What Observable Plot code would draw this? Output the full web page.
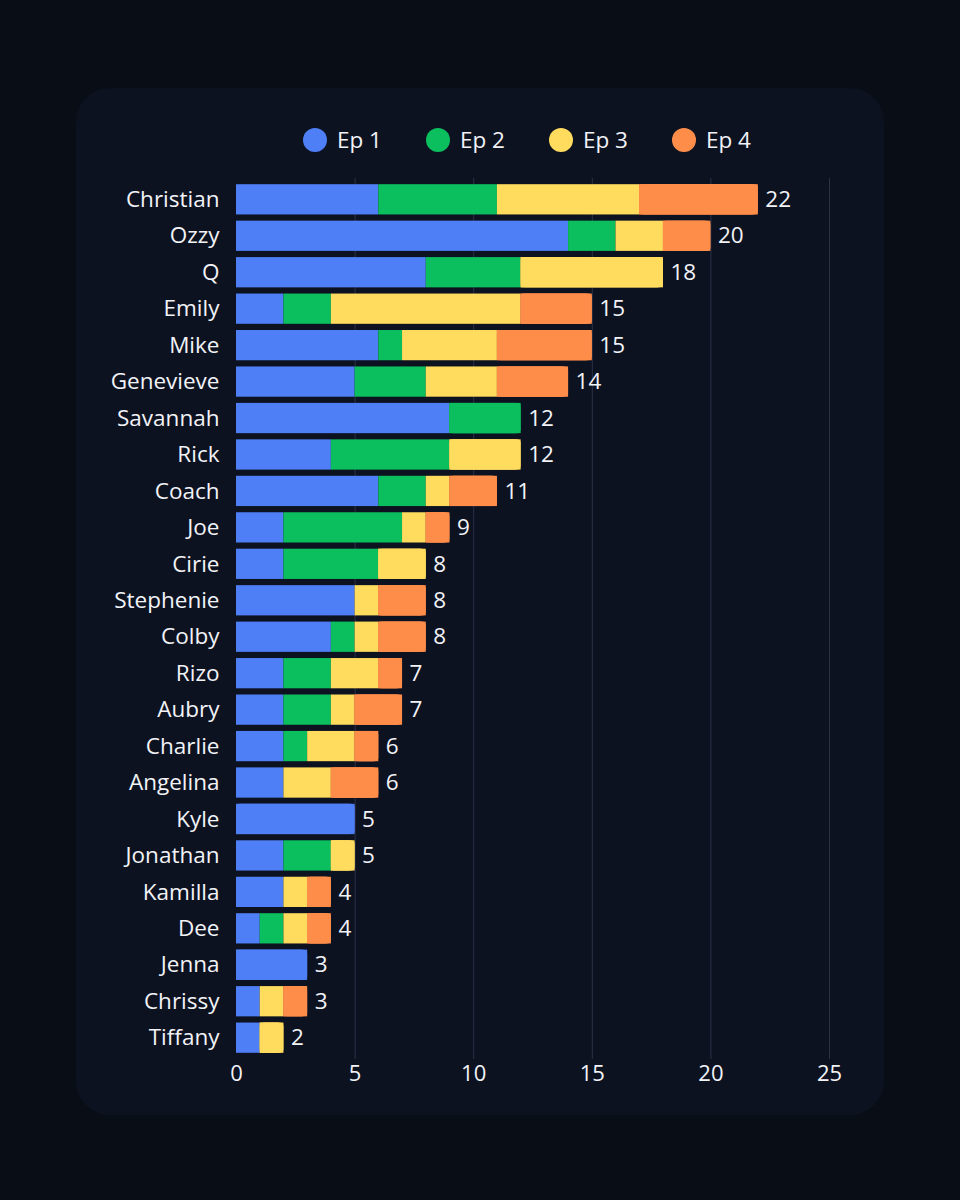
<!DOCTYPE html>
<html>
<head>
<meta charset="utf-8">
<script src="https://cdn.jsdelivr.net/npm/d3@7"></script>
<script src="https://cdn.jsdelivr.net/npm/@observablehq/plot@0.6"></script>
<style>
  html, body { margin: 0; padding: 0; background: #090d16; width: 960px; height: 1200px; overflow: hidden; }
  body { font-family: "Open Sans", "Noto Sans", sans-serif; position: relative; }
  #card { position: absolute; left: 76px; top: 88px; width: 808px; height: 1027px; border-radius: 34px; background: #0d1221; }
  #legend { position: absolute; left: 227px; top: 40px; display: flex; }
  .item { width: 123px; display: flex; align-items: center; height: 24px; }
  .dot { width: 24px; height: 24px; border-radius: 50%; margin-right: 10px; flex: none; }
  .lab { color: #f2f3f7; font-size: 22.5px; line-height: 24px; }
  #chart { position: absolute; left: 0; top: 82px; }
</style>
</head>
<body>
<div id="card">
  <div id="legend"></div>
  <div id="chart"></div>
</div>
<script>
const names = ["Christian","Ozzy","Q","Emily","Mike","Genevieve","Savannah","Rick","Coach","Joe","Cirie","Stephenie","Colby","Rizo","Aubry","Charlie","Angelina","Kyle","Jonathan","Kamilla","Dee","Jenna","Chrissy","Tiffany"];
const ep1 = [6,14,8,2,6,5,9,4,6,2,2,5,4,2,2,2,2,5,2,2,1,3,1,1];
const ep2 = [5,2,4,2,1,3,3,5,2,5,4,0,1,2,2,1,0,0,2,0,1,0,0,0];
const ep3 = [6,2,6,8,4,3,0,3,1,1,2,1,1,2,1,2,2,0,1,1,1,0,1,1];
const ep4 = [5,2,0,3,4,3,0,0,2,1,0,2,2,1,2,1,2,0,0,1,1,0,1,0];
const episodes = ["Ep 1","Ep 2","Ep 3","Ep 4"];
const colors = ["#4e7ff6","#0cbf5e","#ffdc5e","#ff8d4a"];
const xTicks = [0,5,10,15,20,25];

const series = [ep1, ep2, ep3, ep4];
const segs = [];
const totals = [];
names.forEach((name, i) => {
  let acc = 0;
  let last = null;
  series.forEach((s, k) => {
    const v = s[i];
    if (v > 0) {
      const seg = {name, ep: episodes[k], x1: acc, x2: acc + v, last: false};
      segs.push(seg);
      last = seg;
      acc += v;
    }
  });
  if (last) last.last = true;
  totals.push({name, total: acc});
});
const lastSegs = segs.filter(d => d.last);

// legend
const legend = document.getElementById("legend");
episodes.forEach((e, k) => {
  const it = document.createElement("div");
  it.className = "item";
  it.innerHTML = `<span class="dot" style="background:${colors[k]}"></span><span class="lab">${e}</span>`;
  legend.appendChild(it);
});

const chart = Plot.plot({
  width: 808,
  height: 934,
  marginLeft: 160,
  marginRight: 55,
  marginTop: 8,
  marginBottom: 45,
  style: {background: "transparent", color: "#f2f3f7", fontFamily: "'Open Sans', 'Noto Sans', sans-serif", fontSize: "21px"},
  x: {domain: [0, 25], ticks: xTicks, label: null},
  y: {domain: names, padding: 0.17, round: false, label: null},
  color: {domain: episodes, range: colors},
  marks: [
    Plot.ruleX(xTicks.filter(t => t > 0), {stroke: "#2c3148", strokeWidth: 1}),
    Plot.barX(segs, {y: "name", x1: "x1", x2: "x2", fill: "ep"}),
    Plot.barX(lastSegs, {y: "name", x1: "x1", x2: "x2", fill: "ep", rx: 4}),
    Plot.barX(lastSegs, {y: "name", x1: "x1", x2: "x2", fill: "ep", insetRight: 5}),
    Plot.text(totals, {y: "name", x: "total", text: d => String(d.total), textAnchor: "start", dx: 7, fill: "#f2f3f7", fontSize: 22.5}),
    Plot.axisX({ticks: xTicks, tickSize: 0, tickPadding: 6, fontSize: 22, label: null}),
    Plot.axisY({tickSize: 0, tickPadding: 17, fontSize: 22.5, label: null})
  ]
});
document.getElementById("chart").appendChild(chart);
</script>
</body>
</html>
